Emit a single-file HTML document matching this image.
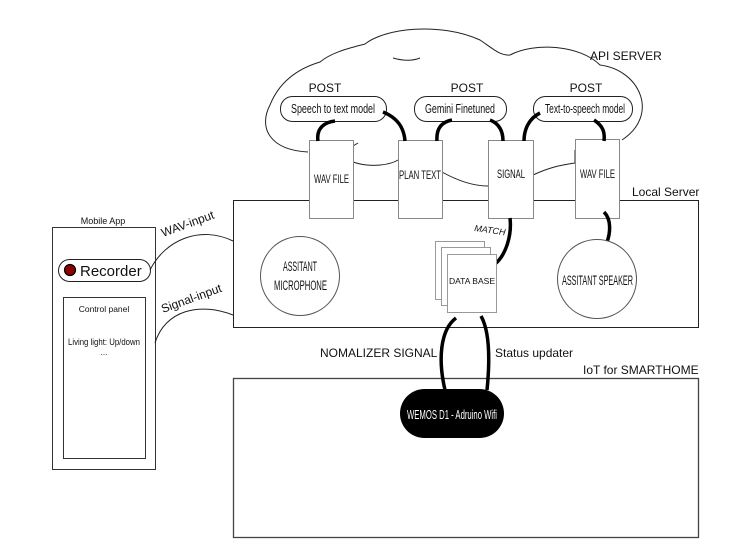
<!DOCTYPE html>
<html><head><meta charset="utf-8"><style>html,body{margin:0;padding:0;background:#fff}svg{display:block}text{font-family:"Liberation Sans",sans-serif;fill:#111}</style></head><body>
<svg width="754" height="560" viewBox="0 0 754 560" xmlns="http://www.w3.org/2000/svg">
<g fill="none" stroke="#222" stroke-width="1">
<path d="M308,152 C270,150 258,128 270,105 C280,80 300,68 320,62 C332,52 350,48 365,44 C385,28 440,22 480,40 C492,48 500,56 510,55 C535,42 580,45 600,65 C640,70 660,115 622,140"/>
<path d="M353,162 C370,168 390,165 398,160"/>
<path d="M442,172 C460,182 475,186 488,186"/>
<path d="M533,175 C548,168 560,165 575,163 L575,150"/>
<path d="M353,146 L358,143"/>
<path d="M393,58 C400,60 410,62 420,58"/>
</g>
<rect x="233.5" y="200.5" width="465" height="127" fill="none" stroke="#222"/>
<rect x="233.5" y="378.5" width="465" height="159" fill="none" stroke="#444" stroke-width="1.3"/>
<g fill="#fff" stroke="#888">
<rect x="309.5" y="140.5" width="44" height="78"/>
<rect x="398.5" y="140.5" width="44" height="78"/>
<rect x="488.5" y="140.5" width="45" height="78"/>
<rect x="575.5" y="139.5" width="44" height="79"/>
</g>
<g font-size="12">
<text x="314" y="183" textLength="35" lengthAdjust="spacingAndGlyphs">WAV FILE</text>
<text x="399" y="179" textLength="42" lengthAdjust="spacingAndGlyphs">PLAN TEXT</text>
<text x="497" y="178" textLength="28" lengthAdjust="spacingAndGlyphs">SIGNAL</text>
<text x="580" y="178" textLength="35" lengthAdjust="spacingAndGlyphs">WAV FILE</text>
</g>
<g fill="#fff" stroke="#222">
<rect x="280.5" y="96.5" width="106" height="25" rx="12"/>
<rect x="414.5" y="96.5" width="92" height="25" rx="12"/>
<rect x="533.5" y="96.5" width="99" height="25" rx="12"/>
</g>
<g font-size="12.5">
<text x="291" y="113" textLength="84" lengthAdjust="spacingAndGlyphs">Speech to text model</text>
<text x="425" y="113" textLength="70" lengthAdjust="spacingAndGlyphs">Gemini Finetuned</text>
<text x="545" y="113" textLength="80" lengthAdjust="spacingAndGlyphs">Text-to-speech model</text>
</g>
<g font-size="12" text-anchor="middle">
<text x="325" y="92">POST</text>
<text x="467" y="92">POST</text>
<text x="586" y="92">POST</text>
</g>
<text x="590" y="60" font-size="12">API SERVER</text>
<text x="632" y="196" font-size="12">Local Server</text>
<text x="583" y="374" font-size="12">IoT for SMARTHOME</text>
<g fill="none" stroke="#000" stroke-width="3.5">
<path d="M318,141 C316,128 325,122 335,121"/>
<path d="M383,112 C398,118 404,128 405,141"/>
<path d="M437,141 C436,128 442,122 452,120"/>
<path d="M490,120 C500,124 503,132 503,141"/>
<path d="M524,141 C524,128 530,118 540,113"/>
<path d="M594,120 C603,126 605,132 604,141"/>
<path d="M510,218 C512,235 506,255 495,264"/>
<path d="M604,212 C612,220 610,234 607,242"/>
<path d="M456,318 C440,330 438,360 445,390"/>
<path d="M481,316 C490,332 490,360 487,390"/>
</g>
<text x="474" y="231" font-size="9" font-style="italic" transform="rotate(8 474 231)">MATCH</text>
<g fill="#fff" stroke="#999">
<rect x="435.5" y="241.5" width="49" height="58"/>
<rect x="441.5" y="247.5" width="49" height="58"/>
<rect x="447.5" y="254.5" width="49" height="58"/>
</g>
<text x="449" y="284" font-size="8" textLength="46" lengthAdjust="spacingAndGlyphs">DATA BASE</text>
<circle cx="300" cy="276" r="39.5" fill="#fff" stroke="#555"/>
<text x="283" y="271" font-size="13.5" textLength="34" lengthAdjust="spacingAndGlyphs">ASSITANT</text>
<text x="274" y="290" font-size="13.5" textLength="53" lengthAdjust="spacingAndGlyphs">MICROPHONE</text>
<circle cx="597" cy="279" r="39.5" fill="#fff" stroke="#555"/>
<text x="562" y="285" font-size="13.5" textLength="71" lengthAdjust="spacingAndGlyphs">ASSITANT SPEAKER</text>
<rect x="400" y="389" width="104" height="49" rx="24.5" fill="#000"/>
<text x="407" y="419" font-size="13" textLength="90" lengthAdjust="spacingAndGlyphs" style="fill:#fff">WEMOS D1 - Adruino Wifi</text>
<text x="320" y="357" font-size="12">NOMALIZER SIGNAL</text>
<text x="495" y="357" font-size="12">Status updater</text>
<text x="103" y="224" font-size="9" text-anchor="middle">Mobile App</text>
<rect x="52.5" y="227.5" width="103" height="242" fill="none" stroke="#333"/>
<rect x="58.5" y="259.5" width="92" height="22" rx="11" fill="#fff" stroke="#222"/>
<circle cx="70" cy="270" r="5.5" fill="#8b0000" stroke="#000" stroke-width="1.2"/>
<text x="80" y="276" font-size="15">Recorder</text>
<rect x="63.5" y="297.5" width="82" height="161" fill="none" stroke="#333"/>
<text x="104" y="312" font-size="8.5" text-anchor="middle">Control panel</text>
<text x="68" y="345" font-size="9" textLength="72" lengthAdjust="spacingAndGlyphs">Living light: Up/down</text>
<text x="104" y="355" font-size="8" text-anchor="middle">...</text>
<g fill="none" stroke="#222">
<path d="M150,270 C165,240 200,225 233,241"/>
<path d="M155,343 C165,310 200,302 233,315"/>
</g>
<text x="163" y="237" font-size="12" transform="rotate(-20 163 237)">WAV-input</text>
<text x="163" y="313" font-size="12" transform="rotate(-20 163 313)">Signal-input</text>
</svg>
</body></html>
